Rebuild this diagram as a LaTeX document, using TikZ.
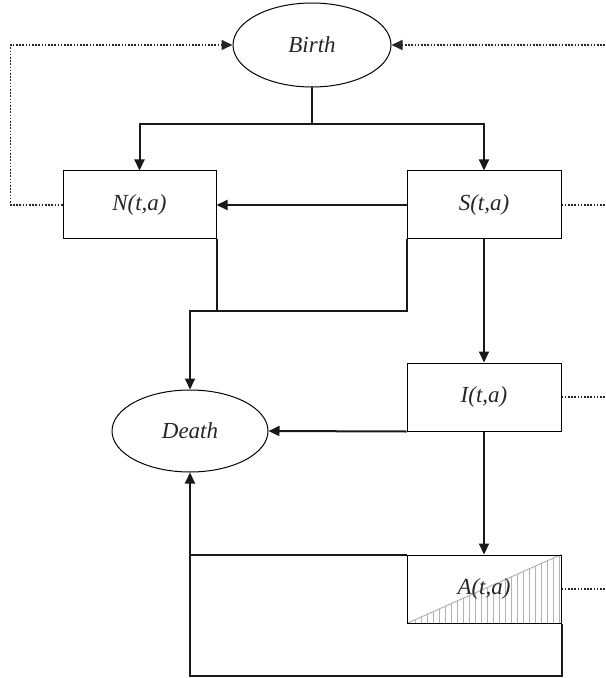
\documentclass[tikz,border=0pt]{standalone}
\usepackage{fontspec}
\setmainfont{Liberation Serif}
\usepackage{tikz}
\usetikzlibrary{shapes,positioning,backgrounds}
\usetikzlibrary{patterns,arrows.meta}
\newcommand{\labelfont}{%
  % italic serif used for every label
  \fontsize{11.5}{13}\selectfont\itshape%
}
\tikzset{
  compartment/.style={rectangle,draw=black,line width=.5pt,minimum width=77pt,
    minimum height=34pt,inner sep=0pt,font=\labelfont,text=black!85},
  event/.style={ellipse,draw=black,line width=.5pt,inner sep=0pt,
    font=\labelfont,text=black!85},
  flow/.style={draw=black!90,line width=1pt},
  feedback/.style={draw=black!85,line width=.8pt,dash pattern=on .8pt off .8pt},
  arr/.style={-{Triangle[length=5.5pt,width=5pt]}}
}
\begin{document}
\begin{tikzpicture}[x=.5pt,y=-.5pt]
  \useasboundingbox (0,0) rectangle (605,678);
  % events
  \node[event,minimum width=79pt,minimum height=42pt] (birth) at (312,45) {Birth};
  \node[event,minimum width=78pt,minimum height=41pt] (death) at (190,431) {Death};
  % compartments
  \node[compartment,minimum width=76.5pt] (N) at (139.5,205) {N(t,a)};
  \node[compartment] (S) at (484,205) {S(t,a)};
  \node[compartment] (I) at (484,397) {I(t,a)};
  \node[compartment] (A) at (484,589) {A(t,a)};
  \begin{scope}[on background layer]
    \fill[pattern=vertical lines,pattern color=gray!60]
      (A.south west) -- (A.north east) -- (A.south east) -- cycle;
    \draw[gray!60,line width=.5pt] (A.south west) -- (A.north east);
  \end{scope}
  \coordinate (split) at (312,124);
  \coordinate (merge) at (death.north |- 0,311);
  \coordinate (rail) at (612,0);
  % births
  \draw[flow] (birth.south) -- (split);
  \draw[flow,arr] (split) -| (N.north);
  \draw[flow,arr] (split) -| (S.north);
  \draw[flow,arr] (S.west) -- (N.east);
  % infection
  \draw[flow,arr] (S.south) -- (I.north);
  \draw[flow,arr] (I.south) -- (A.north);
  % deaths
  \draw[flow] (N.south east) -- (N.south east |- merge);
  \draw[flow,arr] (S.south west) |- (merge) -- (death.north);
  \draw[flow,arr] (I.south west) -- (death.east);
  \draw[flow,arr] (A.north west) -| (death.south);
  \draw[flow] (A.south east) -- ++(0,52) -| (A.north west -| death.south);
  % feedback to birth
  \draw[feedback,arr] (N.west) -- ++(-52,0) |- (birth.west);
  \draw[feedback,arr] (S.east) -- (S.east -| rail) |- (birth.east);
  \draw[feedback] (I.east) -- (I.east -| rail);
  \draw[feedback] (A.east) -- (A.east -| rail) -- (S.east -| rail);
\end{tikzpicture}
\end{document}
